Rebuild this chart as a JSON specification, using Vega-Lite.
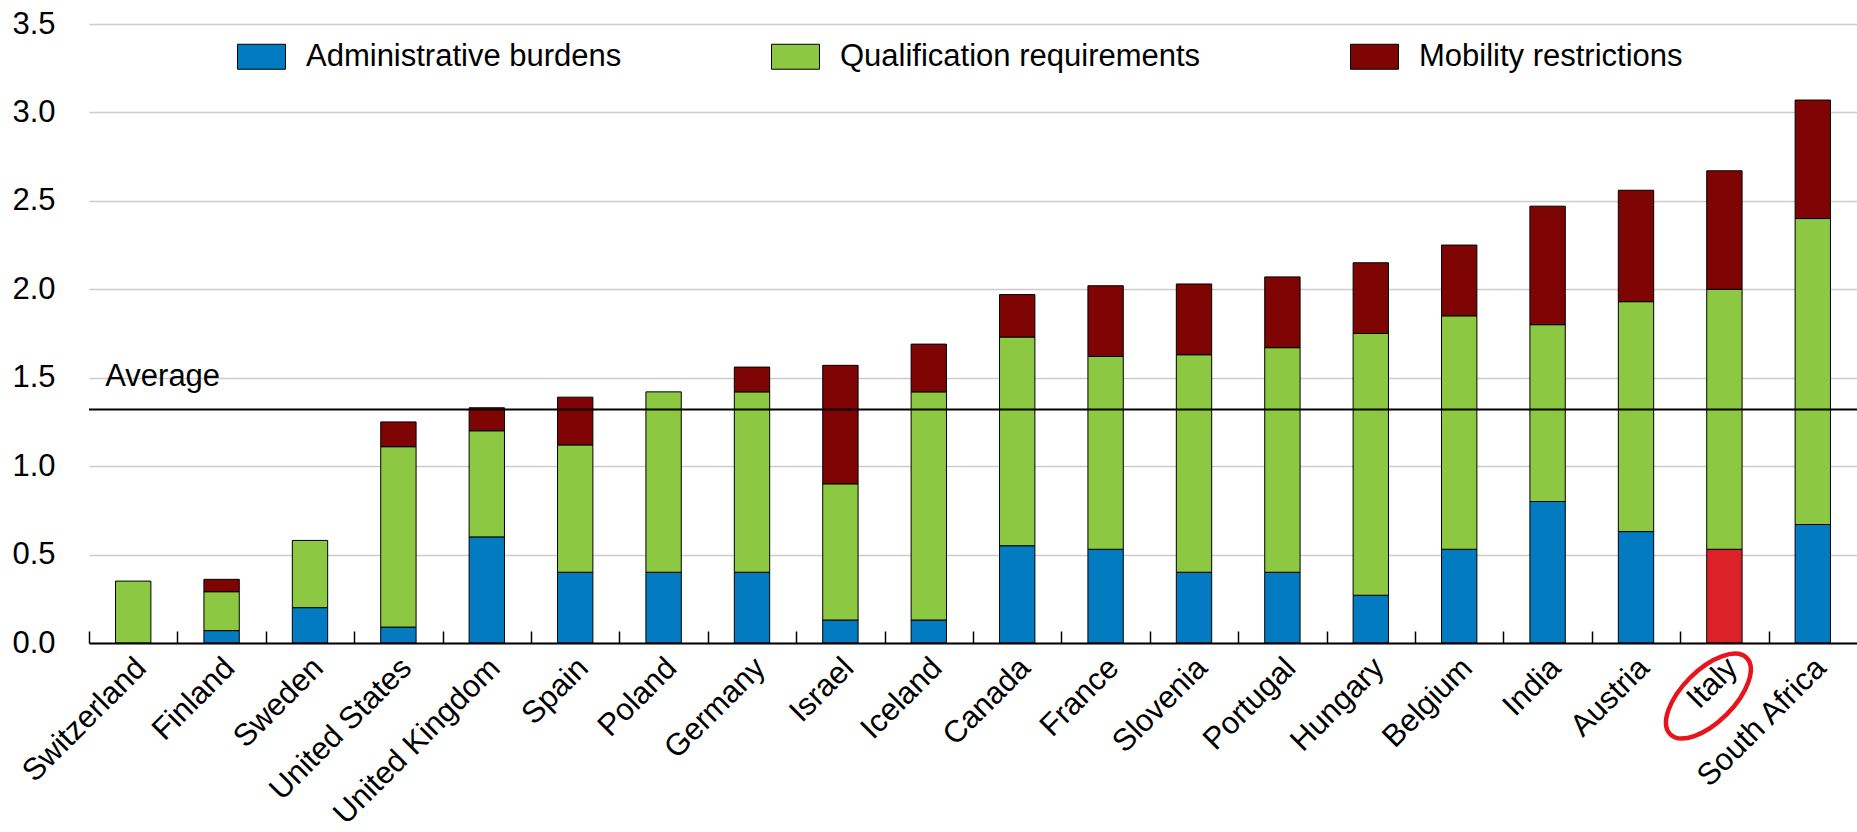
{
  "$schema": "https://vega.github.io/schema/vega-lite/v6.json",
  "width": 1768,
  "height": 619,
  "autosize": {"type": "none"},
  "padding": {"left": 89, "top": 24, "right": 0, "bottom": 189},
  "background": "white",
  "config": {
    "view": {"stroke": null},
    "font": "Liberation Sans, Arial, sans-serif"
  },
  "datasets": {
    "scores": [
      {"country": "Switzerland", "component": "Qualification requirements", "value": 0.35},
      {"country": "Finland", "component": "Administrative burdens", "value": 0.07},
      {"country": "Finland", "component": "Qualification requirements", "value": 0.22},
      {"country": "Finland", "component": "Mobility restrictions", "value": 0.07},
      {"country": "Sweden", "component": "Administrative burdens", "value": 0.2},
      {"country": "Sweden", "component": "Qualification requirements", "value": 0.38},
      {"country": "United States", "component": "Administrative burdens", "value": 0.09},
      {"country": "United States", "component": "Qualification requirements", "value": 1.02},
      {"country": "United States", "component": "Mobility restrictions", "value": 0.14},
      {"country": "United Kingdom", "component": "Administrative burdens", "value": 0.6},
      {"country": "United Kingdom", "component": "Qualification requirements", "value": 0.6},
      {"country": "United Kingdom", "component": "Mobility restrictions", "value": 0.13},
      {"country": "Spain", "component": "Administrative burdens", "value": 0.4},
      {"country": "Spain", "component": "Qualification requirements", "value": 0.72},
      {"country": "Spain", "component": "Mobility restrictions", "value": 0.27},
      {"country": "Poland", "component": "Administrative burdens", "value": 0.4},
      {"country": "Poland", "component": "Qualification requirements", "value": 1.02},
      {"country": "Germany", "component": "Administrative burdens", "value": 0.4},
      {"country": "Germany", "component": "Qualification requirements", "value": 1.02},
      {"country": "Germany", "component": "Mobility restrictions", "value": 0.14},
      {"country": "Israel", "component": "Administrative burdens", "value": 0.13},
      {"country": "Israel", "component": "Qualification requirements", "value": 0.77},
      {"country": "Israel", "component": "Mobility restrictions", "value": 0.67},
      {"country": "Iceland", "component": "Administrative burdens", "value": 0.13},
      {"country": "Iceland", "component": "Qualification requirements", "value": 1.29},
      {"country": "Iceland", "component": "Mobility restrictions", "value": 0.27},
      {"country": "Canada", "component": "Administrative burdens", "value": 0.55},
      {"country": "Canada", "component": "Qualification requirements", "value": 1.18},
      {"country": "Canada", "component": "Mobility restrictions", "value": 0.24},
      {"country": "France", "component": "Administrative burdens", "value": 0.53},
      {"country": "France", "component": "Qualification requirements", "value": 1.09},
      {"country": "France", "component": "Mobility restrictions", "value": 0.4},
      {"country": "Slovenia", "component": "Administrative burdens", "value": 0.4},
      {"country": "Slovenia", "component": "Qualification requirements", "value": 1.23},
      {"country": "Slovenia", "component": "Mobility restrictions", "value": 0.4},
      {"country": "Portugal", "component": "Administrative burdens", "value": 0.4},
      {"country": "Portugal", "component": "Qualification requirements", "value": 1.27},
      {"country": "Portugal", "component": "Mobility restrictions", "value": 0.4},
      {"country": "Hungary", "component": "Administrative burdens", "value": 0.27},
      {"country": "Hungary", "component": "Qualification requirements", "value": 1.48},
      {"country": "Hungary", "component": "Mobility restrictions", "value": 0.4},
      {"country": "Belgium", "component": "Administrative burdens", "value": 0.53},
      {"country": "Belgium", "component": "Qualification requirements", "value": 1.32},
      {"country": "Belgium", "component": "Mobility restrictions", "value": 0.4},
      {"country": "India", "component": "Administrative burdens", "value": 0.8},
      {"country": "India", "component": "Qualification requirements", "value": 1.0},
      {"country": "India", "component": "Mobility restrictions", "value": 0.67},
      {"country": "Austria", "component": "Administrative burdens", "value": 0.63},
      {"country": "Austria", "component": "Qualification requirements", "value": 1.3},
      {"country": "Austria", "component": "Mobility restrictions", "value": 0.63},
      {"country": "Italy", "component": "Administrative burdens", "value": 0.53},
      {"country": "Italy", "component": "Qualification requirements", "value": 1.47},
      {"country": "Italy", "component": "Mobility restrictions", "value": 0.67},
      {"country": "South Africa", "component": "Administrative burdens", "value": 0.67},
      {"country": "South Africa", "component": "Qualification requirements", "value": 1.73},
      {"country": "South Africa", "component": "Mobility restrictions", "value": 0.67}
    ]
  },
  "layer": [
    {
      "data": {"name": "scores"},
      "transform": [
        {"calculate": "indexof(['Administrative burdens', 'Qualification requirements', 'Mobility restrictions'], datum.component)", "as": "stackOrder"}
      ],
      "mark": {"type": "bar", "stroke": "black", "strokeWidth": 1},
      "encoding": {
        "x": {
          "field": "country",
          "type": "nominal",
          "scale": {
            "domain": ["Switzerland", "Finland", "Sweden", "United States", "United Kingdom", "Spain", "Poland", "Germany", "Israel", "Iceland", "Canada", "France", "Slovenia", "Portugal", "Hungary", "Belgium", "India", "Austria", "Italy", "South Africa"],
            "paddingInner": 0.6,
            "paddingOuter": 0.3
          },
          "axis": {
            "title": null,
            "labelAngle": -45,
            "labelAlign": "right",
            "labelBaseline": "middle",
            "labelFontSize": 31,
            "labelColor": "black",
            "labelLimit": 0,
            "labelPadding": 32,
            "labelOffset": 52.2,
            "domainColor": "black",
            "domainWidth": 2,
            "ticks": true,
            "tickColor": "black",
            "tickSize": -12,
            "tickWidth": 1.5,
            "tickOffset": -44.2,
            "zindex": 1
          }
        },
        "y": {
          "field": "value",
          "type": "quantitative",
          "stack": "zero",
          "scale": {"domain": [0, 3.5], "nice": false},
          "axis": {
            "title": null,
            "values": [0, 0.5, 1, 1.5, 2, 2.5, 3, 3.5],
            "format": ".1f",
            "domain": false,
            "ticks": false,
            "labelFontSize": 31,
            "labelColor": "black",
            "labelPadding": 34,
            "gridColor": "#cccccc",
            "gridWidth": 1.5
          }
        },
        "order": {"field": "stackOrder", "type": "quantitative", "sort": "ascending"},
        "color": {
          "condition": {
            "test": "datum.country === 'Italy' && datum.component === 'Administrative burdens'",
            "value": "#dc2228"
          },
          "field": "component",
          "type": "nominal",
          "sort": ["Administrative burdens", "Qualification requirements", "Mobility restrictions"],
          "scale": {
            "domain": ["Administrative burdens", "Qualification requirements", "Mobility restrictions"],
            "range": ["#037bc1", "#8cc841", "#7f0505"]
          },
          "legend": {
            "orient": "none",
            "legendX": 148,
            "legendY": 8,
            "direction": "horizontal",
            "title": null,
            "symbolType": "M-1,-0.52H1V0.52H-1Z",
            "symbolSize": 2304,
            "symbolStrokeColor": "black",
            "symbolStrokeWidth": 1,
            "symbolOpacity": 1,
            "labelFontSize": 31,
            "labelColor": "black",
            "labelOffset": 20,
            "labelLimit": 0,
            "columnPadding": 147
          }
        }
      }
    },
    {
      "data": {"values": [{}]},
      "mark": {"type": "rule", "color": "black", "strokeWidth": 2},
      "encoding": {"y": {"datum": 1.32}}
    },
    {
      "data": {"values": [{}]},
      "mark": {"type": "text", "text": "Average", "align": "left", "baseline": "alphabetic", "fontSize": 31, "color": "black", "dx": -28, "dy": -24},
      "encoding": {"x": {"datum": "Switzerland"}, "y": {"datum": 1.32}}
    },
    {
      "data": {"values": [{"country": "Italy", "value": -0.3}]},
      "mark": {"type": "point", "shape": "M-1,0A1,0.48,0,1,0,1,0A1,0.48,0,1,0,-1,0Z", "size": 11664, "angle": -45, "filled": false, "stroke": "#e8141b", "strokeWidth": 4.5, "opacity": 1, "xOffset": -16},
      "encoding": {
        "x": {"field": "country", "type": "nominal"},
        "y": {"field": "value", "type": "quantitative"}
      }
    }
  ]
}
